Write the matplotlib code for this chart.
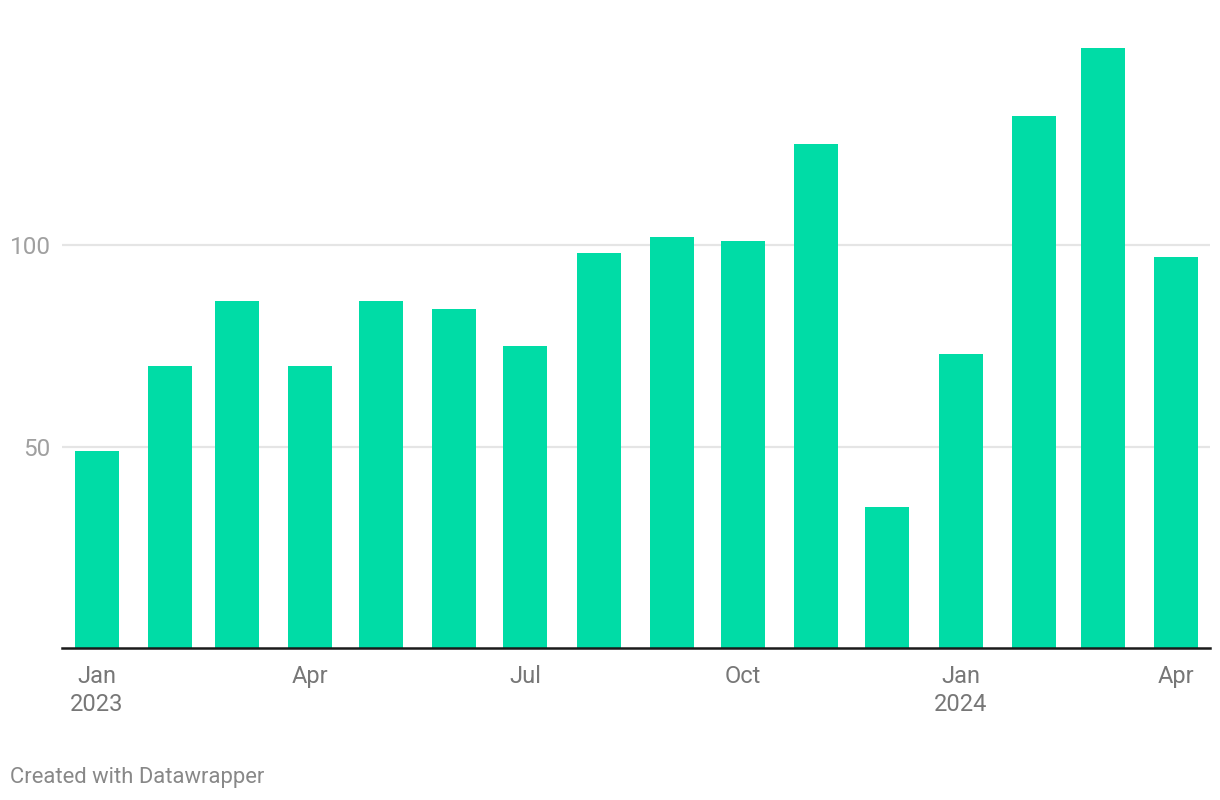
import matplotlib
matplotlib.use("Agg")
import matplotlib.pyplot as plt
import matplotlib.dates as mdates
from datetime import date

months = ["2023-01", "2023-02", "2023-03", "2023-04", "2023-05", "2023-06",
          "2023-07", "2023-08", "2023-09", "2023-10", "2023-11", "2023-12",
          "2024-01", "2024-02", "2024-03", "2024-04"]
values = [49, 70, 86, 70, 86, 84, 75, 98, 102, 101, 125, 35, 73, 132, 149, 97]
tick_months = ["2023-01", "2023-04", "2023-07", "2023-10", "2024-01", "2024-04"]
tick_labels = ["Jan\n2023", "Apr", "Jul", "Oct", "Jan\n2024", "Apr"]
y_ticks = [50, 100]

def to_date(s):
    y, m = s.split("-")
    return date(int(y), int(m), 1)

plt.rcParams['font.family'] = ['Roboto', 'DejaVu Sans']

fig = plt.figure(figsize=(12.2, 8), dpi=100)
ax = fig.add_axes([62/1220, 152/800, (1210-62)/1220, 160*4.03/800])

x = mdates.date2num([to_date(m) for m in months])
ax.bar(x, values, width=18.6, color="#00dca6", zorder=2)

x0 = mdates.date2num(date(2023, 1, 1))
ax.set_xlim(x0 - 14.8, x0 + 470.4)
ax.set_ylim(0, 160)

for yv in y_ticks:
    ax.axhline(yv, color="#e5e5e5", lw=1.6, zorder=1)
ax.set_yticks(y_ticks)
ax.set_yticklabels([str(v) for v in y_ticks])
ax.tick_params(axis='y', length=0, pad=8, labelsize=17.5, labelcolor="#a0a0a0")

ax.set_xticks(mdates.date2num([to_date(m) for m in tick_months]))
ax.set_xticklabels(tick_labels, linespacing=1.3)
ax.tick_params(axis='x', length=0, pad=12, labelsize=17, labelcolor="#777777")

for s in ["top", "right", "left"]:
    ax.spines[s].set_visible(False)
ax.spines["bottom"].set_color("#1a1a1a")
ax.spines["bottom"].set_linewidth(1.8)
ax.spines["bottom"].set_zorder(3)

fig.text(10/1220, 1 - 777/800, "Created with Datawrapper", fontsize=15.8,
         color="#888888", va="center", ha="left")

fig.savefig("out.png", dpi=100, facecolor="white")
